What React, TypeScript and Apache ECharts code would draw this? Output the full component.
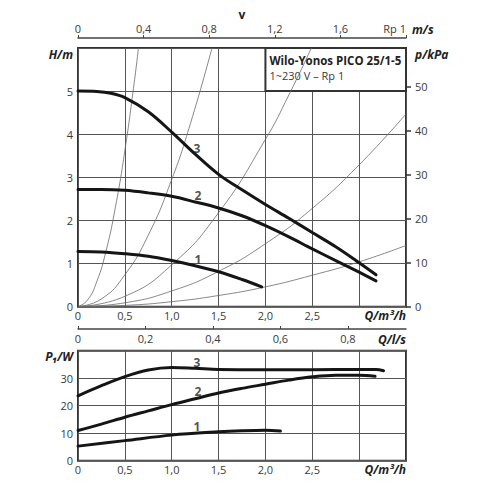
import React, { useEffect, useRef } from 'react';
import * as echarts from 'echarts';

const FONT = '"Open Sans", "Noto Sans", sans-serif';

// Pump curves H(Q)  [Q m³/h, H m]
const H_CURVE_1 = [[0, 1.28], [0.25, 1.27], [0.5, 1.23], [0.75, 1.17], [1.0, 1.07], [1.25, 0.95], [1.5, 0.81], [1.75, 0.63], [1.96, 0.46]];
const H_CURVE_2 = [[0, 2.72], [0.25, 2.72], [0.5, 2.7], [0.75, 2.64], [1.0, 2.56], [1.25, 2.43], [1.5, 2.29], [1.75, 2.11], [2.0, 1.88], [2.25, 1.62], [2.5, 1.34], [2.75, 1.07], [3.0, 0.8], [3.18, 0.6]];
const H_CURVE_3 = [[0, 5.0], [0.2, 4.99], [0.35, 4.95], [0.5, 4.85], [0.75, 4.52], [1.0, 4.05], [1.25, 3.54], [1.5, 3.07], [1.75, 2.71], [2.0, 2.37], [2.25, 2.05], [2.5, 1.72], [2.75, 1.39], [3.0, 1.02], [3.18, 0.74]];

// System curves (thin)
const SYS_A = [[0, 0], [0.1, 0.15], [0.2, 0.58], [0.3, 1.3], [0.4, 2.32], [0.5, 3.62], [0.6, 5.2], [0.645, 6.0]];
const SYS_B = [[0, 0], [0.25, 0.18], [0.5, 0.74], [0.75, 1.66], [1.0, 2.95], [1.2, 4.25], [1.43, 6.0]];
const SYS_C = [[0, 0], [0.5, 0.24], [1.0, 0.97], [1.5, 2.18], [2.0, 3.88], [2.25, 4.91], [2.49, 6.0]];
const SYS_D = [[0, 0], [0.5, 0.09], [1.0, 0.365], [1.5, 0.82], [2.0, 1.46], [2.5, 2.28], [3.0, 3.29], [3.5, 4.47]];
const SYS_E = [[0, 0], [0.5, 0.03], [1.0, 0.116], [1.5, 0.26], [2.0, 0.46], [2.5, 0.73], [3.0, 1.04], [3.5, 1.42]];

// Power curves P1(Q)  [Q m³/h, P W]
const P_CURVE_1 = [[0, 5.3], [0.5, 7.3], [1.0, 9.3], [1.5, 10.5], [1.75, 10.9], [2.0, 11.1], [2.16, 10.8]];
const P_CURVE_2 = [[0, 11.0], [0.25, 13.3], [0.5, 15.8], [0.75, 18.1], [1.0, 20.4], [1.25, 22.5], [1.5, 24.6], [1.75, 26.3], [2.0, 27.8], [2.25, 29.3], [2.5, 30.5], [2.75, 31.1], [3.0, 31.1], [3.17, 30.7]];
const P_CURVE_3 = [[0, 23.6], [0.25, 27.3], [0.5, 30.6], [0.75, 33.0], [1.0, 33.9], [1.25, 33.6], [1.5, 33.2], [2.0, 33.1], [2.5, 33.1], [3.0, 33.2], [3.18, 33.2], [3.26, 32.7]];

// Curve number labels
const H_LABELS = [[1.27, 3.67, '3'], [1.28, 2.59, '2'], [1.28, 1.1, '1']];
const P_LABELS = [[1.27, 35.8, '3'], [1.28, 25.0, '2'], [1.27, 12.6, '1']];

// Axes
const Q_MAX = 3.5;
const Q_STEP = 0.5;
const V_MAX = 2.0;
const V_STEP = 0.4;
const LS_MAX = 3.5 / 3.6;
const LS_STEP = 0.2;
const LS_TICKS = [0, 0.2, 0.4, 0.6, 0.8];
const H_MAX = 6;
const KPA_MAX = 6 * 9.81;
const KPA_TICKS = [0, 10, 20, 30, 40, 50];
const P_MAX = 40;

const TITLE = 'Wilo-Yonos PICO 25/1-5';
const SUBTITLE = '1~230 V – Rp 1';

const TXT = '#3a3a3a';
const GRIDLINE = '#555';
const FRAME = '#333';
const CURVE = '#151515';
const THIN = '#6a6a6a';

const comma = (v: number) => (v === 0 ? '0' : v.toFixed(1).replace('.', ','));
const boldRich = { b: { fontWeight: 'bold', fontStyle: 'italic', fontSize: 12, color: '#222', fontFamily: FONT } };

export default function App() {
  const ref = useRef<HTMLDivElement>(null);
  useEffect(() => {
    if (!ref.current) return;
    const chart = echarts.init(ref.current, null, { renderer: 'svg' });
    const lbl = { color: TXT, fontSize: 11, fontFamily: FONT };
    const thin = (data: number[][]) => ({
      type: 'line', xAxisIndex: 0, yAxisIndex: 0, data, smooth: true, symbol: 'none', silent: true, z: 2,
      lineStyle: { color: THIN, width: 0.8 },
    });
    const thick = (data: number[][], x: number, y: number) => ({
      type: 'line', xAxisIndex: x, yAxisIndex: y, data, smooth: 0.35, symbol: 'none', silent: true, z: 3,
      lineStyle: { color: CURVE, width: 3, cap: 'round' },
    });
    const labels = (data: any[], x: number, y: number) => ({
      type: 'scatter', xAxisIndex: x, yAxisIndex: y, data, symbolSize: 0, silent: true, z: 4,
      label: { show: true, position: 'inside', formatter: (p: any) => p.value[2], fontWeight: 'bold', fontSize: 12, color: '#222', fontFamily: FONT },
    });

    chart.setOption({
      animation: false,
      textStyle: { fontFamily: FONT },
      grid: [
        { left: 78, right: 94, top: 48, height: 258.7, show: true, borderColor: FRAME, borderWidth: 2, backgroundColor: 'transparent', outerBoundsMode: 'none' },
        { left: 78, right: 94, top: 350.7, height: 110, show: true, borderColor: FRAME, borderWidth: 2, backgroundColor: 'transparent', outerBoundsMode: 'none' },
      ],
      xAxis: [
        {
          gridIndex: 0, type: 'value', position: 'bottom', min: 0, max: Q_MAX, interval: Q_STEP,
          axisLine: { show: false, onZero: false }, axisTick: { show: false },
          splitLine: { show: true, lineStyle: { color: GRIDLINE, width: 1 } },
          axisLabel: { ...lbl, margin: 3, showMaxLabel: true, alignMaxLabel: 'right', rich: boldRich,
            formatter: (v: number) => (v >= Q_MAX - 1e-6 ? '{b|Q/m³/h}' : comma(v)) },
        },
        {
          gridIndex: 0, type: 'value', position: 'top', offset: 10, min: 0, max: V_MAX, interval: V_STEP,
          axisLine: { show: true, onZero: false, lineStyle: { color: '#444', width: 1.5 } },
          axisTick: { show: true, length: 3, lineStyle: { color: '#444', width: 1 } },
          splitLine: { show: false },
          axisLabel: { ...lbl, margin: 4, showMaxLabel: true, alignMaxLabel: 'right',
            formatter: (v: number) => (v >= V_MAX - 1e-6 ? 'Rp 1' : comma(v)) },
          name: 'm/s', nameLocation: 'end', nameGap: 6,
          nameTextStyle: { fontWeight: 'bold', fontStyle: 'italic', fontSize: 12, color: '#222', verticalAlign: 'bottom', padding: [0, 0, 3, 0] },
        },
        {
          gridIndex: 0, type: 'value', position: 'top', offset: 10, min: 0, max: 1,
          axisLine: { show: false, onZero: false }, axisTick: { show: false }, axisLabel: { show: false }, splitLine: { show: false },
          name: 'v', nameLocation: 'middle', nameGap: 18,
          nameTextStyle: { fontWeight: 'bold', fontSize: 12, color: '#222' },
        },
        {
          gridIndex: 0, type: 'value', position: 'bottom', offset: 22.3, min: 0, max: LS_MAX, interval: LS_STEP,
          axisLine: { show: true, onZero: false, lineStyle: { color: '#444', width: 1.5 } },
          axisTick: { show: true, inside: true, length: 3, lineStyle: { color: '#444', width: 1 }, customValues: LS_TICKS },
          splitLine: { show: false },
          axisLabel: { ...lbl, margin: 4, showMaxLabel: true, alignMaxLabel: 'right', rich: boldRich,
            formatter: (v: number) => (v > 0.9 ? '{b|Q/l/s}' : comma(v)) },
        },
        {
          gridIndex: 1, type: 'value', position: 'bottom', min: 0, max: Q_MAX, interval: Q_STEP,
          axisLine: { show: false, onZero: false }, axisTick: { show: false },
          splitLine: { show: true, lineStyle: { color: GRIDLINE, width: 1 } },
          axisLabel: { ...lbl, margin: 3, showMaxLabel: true, alignMaxLabel: 'right', rich: boldRich,
            formatter: (v: number) => (v >= Q_MAX - 1e-6 ? '{b|Q/m³/h}' : comma(v)) },
        },
      ],
      yAxis: [
        {
          gridIndex: 0, type: 'value', position: 'left', min: 0, max: H_MAX, interval: 1,
          axisLine: { show: false, onZero: false }, axisTick: { show: false },
          splitLine: { show: true, lineStyle: { color: GRIDLINE, width: 1 } },
          axisLabel: { ...lbl, margin: 5, showMaxLabel: true, verticalAlignMaxLabel: 'top', rich: boldRich,
            formatter: (v: number) => (v >= H_MAX ? '{b|H/m}' : String(v)) },
        },
        {
          gridIndex: 0, type: 'value', position: 'right', min: 0, max: KPA_MAX, interval: 10,
          axisLine: { show: false, onZero: false },
          axisTick: { show: true, length: 5, lineStyle: { color: FRAME, width: 1.5 }, customValues: KPA_TICKS },
          splitLine: { show: false },
          axisLabel: { ...lbl, margin: 9, showMaxLabel: true, verticalAlignMaxLabel: 'top', rich: boldRich,
            formatter: (v: number) => (v > 55 ? '{b|p/kPa}' : String(v)) },
        },
        {
          gridIndex: 1, type: 'value', position: 'left', min: 0, max: P_MAX, interval: 10,
          axisLine: { show: false, onZero: false }, axisTick: { show: false },
          splitLine: { show: true, lineStyle: { color: GRIDLINE, width: 1 } },
          axisLabel: { ...lbl, margin: 5, showMaxLabel: true, verticalAlignMaxLabel: 'top', rich: boldRich,
            formatter: (v: number) => (v >= P_MAX ? '{b|P₁/W}' : String(v)) },
        },
      ],
      series: [
        thin(SYS_A), thin(SYS_B), thin(SYS_C), thin(SYS_D), thin(SYS_E),
        thick(H_CURVE_1, 0, 0), thick(H_CURVE_2, 0, 0), thick(H_CURVE_3, 0, 0),
        labels(H_LABELS, 0, 0),
        {
          type: 'line', xAxisIndex: 0, yAxisIndex: 0, data: [[2.0, 5]], symbol: 'none', silent: true, z: 10,
          lineStyle: { width: 0 },
          markArea: {
            silent: true,
            itemStyle: { color: '#fff', borderColor: FRAME, borderWidth: 2, opacity: 1 },
            label: {
              show: true, position: 'insideTopLeft', distance: 5,
              formatter: `{t|${TITLE}}\n{s|${SUBTITLE}}`,
              rich: {
                t: { fontWeight: 'bold', fontSize: 11.5, color: '#222', lineHeight: 16, fontFamily: FONT },
                s: { fontSize: 11, color: TXT, lineHeight: 14, fontFamily: FONT },
              },
            },
            data: [[{ coord: [2.0, 5] }, { coord: [Q_MAX, H_MAX] }]],
          },
        },
        thick(P_CURVE_1, 4, 2), thick(P_CURVE_2, 4, 2), thick(P_CURVE_3, 4, 2),
        labels(P_LABELS, 4, 2),
      ],
    });
    return () => chart.dispose();
  }, []);
  return <div ref={ref} style={{ position: 'fixed', left: 0, top: 0, width: 500, height: 500, background: '#fff' }} />;
}
